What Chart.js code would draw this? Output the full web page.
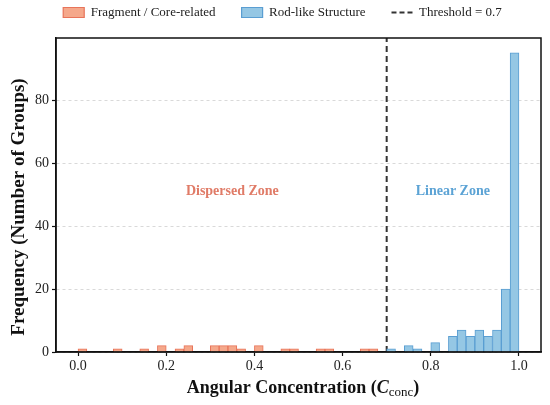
<!DOCTYPE html>
<html>
<head>
<meta charset="utf-8">
<script src="https://cdn.jsdelivr.net/npm/chart.js@4.4.1/dist/chart.umd.min.js"></script>
<style>
  html, body { margin: 0; padding: 0; background: #fff; }
  #wrap { width: 550px; height: 405px; position: relative; }
</style>
</head>
<body>
<div id="wrap"><canvas id="myChart"></canvas></div>
<script>
// histogram bins, width 0.02
var binWidth = 0.02;
var threshold = 0.7;

// bins 0.00 .. 0.70 (35 bins)
var fragmentCounts = [1, 0, 0, 0, 1, 0, 0, 1, 0, 2,
                      0, 1, 2, 0, 0, 2, 2, 2, 1, 0,
                      2, 0, 0, 1, 1, 0, 0, 1, 1, 0,
                      0, 0, 1, 1, 0];
// bins 0.70 .. 1.00 (15 bins)
var rodCounts = [1, 0, 2, 1, 0, 3, 0, 5, 7, 5, 7, 5, 7, 20, 95];

var xTicks = [0.0, 0.2, 0.4, 0.6, 0.8, 1.0];
var yTicks = [0, 20, 40, 60, 80];

var orangeFill = '#F5A88B';
var orangeLine = '#E8745A';
var blueFill = '#95C7E4';
var blueLine = '#5A9ED2';

function toPoints(counts, start) {
    var pts = [];
    for (var i = 0; i < counts.length; i++) {
        pts.push({ x: start + binWidth * (i + 0.5), y: counts[i] > 0 ? counts[i] : null });
    }
    return pts;
}

var serif = "'Liberation Serif', 'Times New Roman', serif";
Chart.defaults.font.family = serif;
Chart.defaults.color = '#222';

// frame, zone labels and the axis titles (x title has a subscript)
var extras = {
    id: 'extras',
    afterInit: function (chart) {
        var lg = chart.legend;
        var fit = lg.fit;
        lg.fit = function () {
            fit.call(this);
            this.height = 38;
        };
        // legend sits higher and a bit right of the default spot
        var draw = lg.draw;
        lg.draw = function () {
            var t = this.top, l = this.left, r = this.right;
            this.top = t - 20;
            this.left = l + 12;
            this.right = r + 12;
            draw.call(this);
            this.top = t;
            this.left = l;
            this.right = r;
        };
    },
    afterDatasetsDraw: function (chart) {
        var ctx = chart.ctx;
        var a = chart.chartArea;
        var xs = chart.scales.x, ys = chart.scales.y;
        ctx.save();
        ctx.font = 'bold 14px ' + serif;
        ctx.textAlign = 'center';
        ctx.textBaseline = 'middle';
        ctx.fillStyle = '#E07B67';
        ctx.fillText('Dispersed Zone', xs.getPixelForValue(0.35), ys.getPixelForValue(51));
        ctx.fillStyle = '#5CA3D5';
        ctx.fillText('Linear Zone', xs.getPixelForValue(0.85), ys.getPixelForValue(51));

        ctx.strokeStyle = '#111';
        ctx.lineWidth = 1.5;
        ctx.strokeRect(a.left, a.top, a.right - a.left, a.bottom - a.top);

        // y title
        ctx.save();
        ctx.translate(19, 207);
        ctx.rotate(-Math.PI / 2);
        ctx.font = 'bold 19px ' + serif;
        ctx.fillStyle = '#111';
        ctx.fillText('Frequency (Number of Groups)', 0, 0);
        ctx.restore();

        // x title: Angular Concentration (C_conc)
        var p1 = 'Angular Concentration (', p2 = 'C', p3 = 'conc', p4 = ')';
        var f1 = 'bold 18px ' + serif, f2 = 'bold italic 18px ' + serif, f3 = '13px ' + serif;
        ctx.font = f1; var w1 = ctx.measureText(p1).width, w4 = ctx.measureText(p4).width;
        ctx.font = f2; var w2 = ctx.measureText(p2).width;
        ctx.font = f3; var w3 = ctx.measureText(p3).width;
        var total = w1 + w2 + w3 + w4;
        var x = 303 - total / 2;
        var y = 393;
        ctx.textAlign = 'left';
        ctx.textBaseline = 'alphabetic';
        ctx.fillStyle = '#111';
        ctx.font = f1; ctx.fillText(p1, x, y); x += w1;
        ctx.font = f2; ctx.fillText(p2, x, y); x += w2;
        ctx.font = f3; ctx.fillText(p3, x, y + 3); x += w3;
        ctx.font = f1; ctx.fillText(p4, x, y);
        ctx.restore();
    }
};

const ctx = document.getElementById('myChart');

new Chart(ctx, {
    type: 'bar',
    data: {
        datasets: [{
            label: 'Fragment / Core-related',
            data: toPoints(fragmentCounts, 0),
            backgroundColor: orangeFill,
            borderColor: orangeLine,
            borderWidth: 1,
            grouped: false,
            barPercentage: 1,
            categoryPercentage: 1
        }, {
            label: 'Rod-like Structure',
            data: toPoints(rodCounts, threshold),
            backgroundColor: blueFill,
            borderColor: blueLine,
            borderWidth: 1,
            grouped: false,
            barPercentage: 1,
            categoryPercentage: 1
        }, {
            type: 'line',
            label: 'Threshold = 0.7',
            data: [{ x: threshold, y: 0 }, { x: threshold, y: 99.75 }],
            borderColor: '#333',
            borderWidth: 2,
            borderDash: [6, 4],
            pointRadius: 0,
            fill: false
        }]
    },
    options: {
        responsive: true,
        maintainAspectRatio: false,
        animation: false,
        layout: { padding: { left: 0, right: 9, top: 0, bottom: 0 } },
        plugins: {
            tooltip: { enabled: false },
            legend: {
                position: 'top',
                labels: {
                    font: { size: 13 },
                    color: '#222',
                    usePointStyle: true,
                    boxWidth: 21,
                    boxHeight: 10,
                    pointStyleWidth: 21,
                    padding: 26,
                    generateLabels: function () {
                        return [
                            { text: 'Fragment / Core-related', fillStyle: orangeFill, strokeStyle: orangeLine, lineWidth: 1.2, pointStyle: 'rect', fontColor: '#222' },
                            { text: 'Rod-like Structure', fillStyle: blueFill, strokeStyle: blueLine, lineWidth: 1.2, pointStyle: 'rect', fontColor: '#222' },
                            { text: 'Threshold = 0.7', fillStyle: 'rgba(0,0,0,0)', strokeStyle: '#333', lineWidth: 2, lineDash: [5, 3], pointStyle: 'line', fontColor: '#222' }
                        ];
                    }
                }
            }
        },
        scales: {
            x: {
                type: 'linear',
                min: -0.05,
                max: 1.05,
                offset: false,
                afterFit: function (s) { s.height = 53; },
                afterBuildTicks: function (s) { s.ticks = xTicks.map(function (v) { return { value: v }; }); },
                ticks: {
                    font: { size: 14 },
                    color: '#222',
                    padding: 2,
                    maxRotation: 0,
                    callback: function (v) { return v.toFixed(1); }
                },
                grid: { offset: false, drawOnChartArea: false, drawTicks: true, tickLength: 4, tickColor: '#111', tickWidth: 1.2 },
                border: { color: '#111', width: 1.5 }
            },
            y: {
                min: 0,
                max: 99.75,
                afterFit: function (s) { s.width = 56; },
                afterBuildTicks: function (s) { s.ticks = yTicks.map(function (v) { return { value: v }; }); },
                ticks: { font: { size: 14 }, color: '#222', padding: 3 },
                grid: {
                    color: '#d0d0d0',
                    lineWidth: 0.8,
                    tickLength: 4,
                    tickColor: '#111',
                    tickWidth: 1.2,
                    tickBorderDash: []
                },
                border: { color: '#111', width: 1.5, dash: [3, 3] }
            }
        }
    },
    plugins: [extras]
});
</script>
</body>
</html>
